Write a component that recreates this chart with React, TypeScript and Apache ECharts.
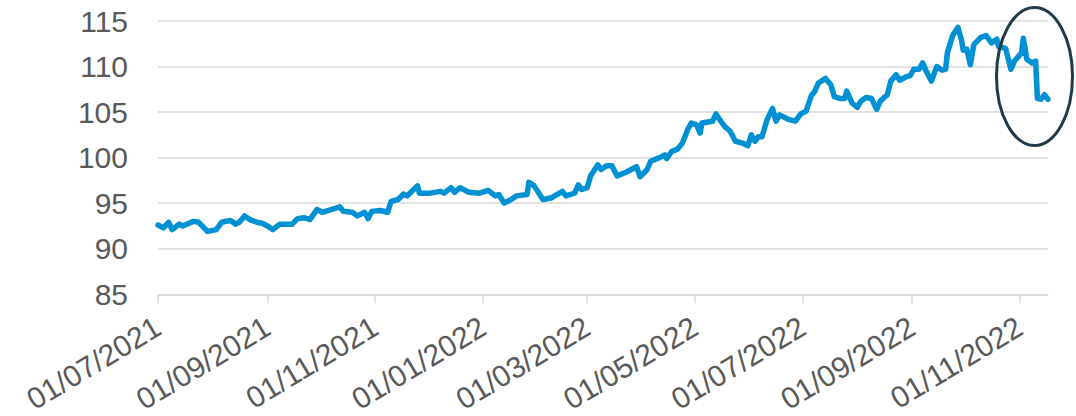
import React, { useEffect, useRef } from "react";
import * as echarts from "echarts";

const dates = [
  "2021-07-01","2021-07-04","2021-07-07","2021-07-09","2021-07-13","2021-07-15","2021-07-21","2021-07-24","2021-07-26","2021-07-29",
  "2021-08-03","2021-08-06","2021-08-11","2021-08-14","2021-08-16","2021-08-19","2021-08-22","2021-08-26","2021-08-29",
  "2021-09-01","2021-09-04","2021-09-08","2021-09-15","2021-09-18","2021-09-22","2021-09-25","2021-09-29",
  "2021-10-02","2021-10-07","2021-10-12","2021-10-14","2021-10-19","2021-10-22","2021-10-26","2021-10-28","2021-10-30",
  "2021-11-04","2021-11-08","2021-11-10","2021-11-14","2021-11-17","2021-11-19","2021-11-25","2021-11-26",
  "2021-12-02","2021-12-08","2021-12-10","2021-12-14","2021-12-16","2021-12-19","2021-12-24","2021-12-30",
  "2022-01-04","2022-01-08","2022-01-10","2022-01-13","2022-01-17","2022-01-20","2022-01-26","2022-01-27","2022-01-30",
  "2022-02-04","2022-02-09","2022-02-15","2022-02-17","2022-02-22","2022-02-24","2022-02-26",
  "2022-03-01","2022-03-03","2022-03-07","2022-03-09","2022-03-12","2022-03-15","2022-03-18","2022-03-23","2022-03-29","2022-03-31",
  "2022-04-04","2022-04-06","2022-04-11","2022-04-14","2022-04-15","2022-04-18","2022-04-21","2022-04-24","2022-04-27","2022-04-29",
  "2022-05-02","2022-05-04","2022-05-05","2022-05-11","2022-05-13","2022-05-15","2022-05-18","2022-05-21","2022-05-24","2022-05-28","2022-05-31",
  "2022-06-02","2022-06-04","2022-06-06","2022-06-08","2022-06-11","2022-06-14","2022-06-16","2022-06-18","2022-06-23","2022-06-27","2022-06-30",
  "2022-07-03","2022-07-06","2022-07-08","2022-07-10","2022-07-14","2022-07-17","2022-07-19","2022-07-22","2022-07-25","2022-07-26","2022-07-29",
  "2022-08-01","2022-08-03","2022-08-06","2022-08-09","2022-08-12","2022-08-14","2022-08-18","2022-08-20","2022-08-23","2022-08-25","2022-08-29","2022-08-31",
  "2022-09-02","2022-09-05","2022-09-07","2022-09-09","2022-09-12","2022-09-15","2022-09-18","2022-09-20","2022-09-21","2022-09-24","2022-09-27","2022-09-29","2022-09-30",
  "2022-10-02","2022-10-04","2022-10-06","2022-10-10","2022-10-13","2022-10-16","2022-10-19","2022-10-20","2022-10-24","2022-10-27","2022-10-29",
  "2022-11-02","2022-11-03","2022-11-05","2022-11-08","2022-11-10","2022-11-11","2022-11-13","2022-11-15","2022-11-17",
];

const values = [
  92.6,92.3,92.9,92.1,92.7,92.5,93.0,92.9,92.5,91.9,
  92.1,92.9,93.1,92.7,92.9,93.6,93.2,92.9,92.8,
  92.5,92.1,92.7,92.7,93.3,93.4,93.2,94.3,
  94.0,94.3,94.6,94.1,94.0,93.6,94.0,93.3,94.1,
  94.2,94.0,95.2,95.4,96.0,95.8,96.9,96.1,
  96.1,96.3,96.1,96.7,96.2,96.7,96.2,96.1,
  96.4,95.8,95.95,95.0,95.4,95.8,95.95,97.3,96.9,
  95.4,95.6,96.3,95.8,96.1,97.0,96.5,
  96.7,98.0,99.2,98.7,99.1,99.1,98.0,98.4,99.0,97.9,
  98.7,99.6,100.0,100.3,99.9,100.7,100.9,101.6,103.1,103.8,
  103.6,102.7,103.8,104.0,104.8,104.2,103.4,102.9,101.8,101.6,101.3,
  102.5,101.8,102.3,102.3,104.2,105.4,104.0,104.7,104.2,104.0,104.8,
  105.1,106.8,107.3,108.2,108.7,108.0,106.7,106.5,106.5,107.3,106.0,
  105.5,106.2,106.6,106.5,105.3,106.2,106.9,108.4,109.1,108.5,108.9,109.0,
  109.7,109.7,110.4,109.5,108.4,110.0,109.6,109.7,111.5,113.4,114.3,112.9,111.8,
  111.9,110.2,112.4,113.2,113.4,112.6,113.0,112.2,112.0,109.7,110.6,
  111.5,113.1,110.8,110.4,110.6,106.5,106.4,106.9,106.4,
];

const tickDates = [
  "2021-07-01","2021-09-01","2021-11-01","2022-01-01","2022-03-01",
  "2022-05-01","2022-07-01","2022-09-01","2022-11-01",
];
const axisStart = "2021-07-01";
const axisEnd = "2022-11-17";
const yMin = 85;
const yMax = 115;
const yStep = 5;

const DAY = 86400000;
function utc(s: string): number {
  const [y, m, d] = s.split("-").map(Number);
  return Date.UTC(y, m - 1, d);
}
const t0 = utc(axisStart);
function dayIdx(s: string): number {
  return Math.round((utc(s) - t0) / DAY);
}
function pad(n: number): string {
  return n < 10 ? "0" + n : String(n);
}
function fmtDay(v: number): string {
  const d = new Date(t0 + Math.round(v) * DAY);
  return pad(d.getUTCDate()) + "/" + pad(d.getUTCMonth() + 1) + "/" + d.getUTCFullYear();
}

export default function App() {
  const ref = useRef<HTMLDivElement>(null);
  useEffect(() => {
    if (!ref.current) return;
    const chart = echarts.init(ref.current, undefined, { renderer: "svg" });
    const font = "'Liberation Sans', Arial, sans-serif";
    const tickIdx = tickDates.map(dayIdx);
    chart.setOption({
      animation: false,
      backgroundColor: "#ffffff",
      grid: { left: 158, right: 28, top: 21, bottom: 121, containLabel: false },
      xAxis: {
        type: "value",
        min: 0,
        max: dayIdx(axisEnd),
        axisLine: { show: true, lineStyle: { color: "#d9d9d9", width: 1.5 } },
        axisTick: {
          show: true,
          length: 9,
          customValues: tickIdx,
          lineStyle: { color: "#d9d9d9", width: 1.5 },
        },
        splitLine: { show: false },
        axisLabel: {
          customValues: tickIdx,
          rotate: 31,
          margin: 30,
          fontSize: 30,
          color: "#595959",
          fontFamily: font,
          formatter: (v: number) => fmtDay(v),
        },
      },
      yAxis: {
        type: "value",
        min: yMin,
        max: yMax,
        interval: yStep,
        axisLine: { show: false },
        axisTick: { show: false },
        splitLine: { show: true, lineStyle: { color: "#d9d9d9", width: 1.5 } },
        axisLabel: {
          margin: 30,
          fontSize: 30,
          color: "#595959",
          fontFamily: font,
        },
      },
      series: [
        {
          type: "line",
          data: dates.map((d, i) => [dayIdx(d), values[i]]),
          showSymbol: false,
          symbol: "none",
          lineStyle: { color: "#0091d4", width: 5.5, cap: "round", join: "round" },
          z: 3,
        },
      ],
      graphic: [
        {
          type: "ellipse",
          shape: { cx: 1034.5, cy: 76.5, rx: 38, ry: 69 },
          style: { fill: "none", stroke: "#1f3b4b", lineWidth: 3 },
          z: 100,
        },
      ],
    });
    return () => chart.dispose();
  }, []);
  return (
    <div
      ref={ref}
      style={{ position: "fixed", left: 0, top: 0, width: 1076, height: 416, background: "#fff" }}
    />
  );
}
